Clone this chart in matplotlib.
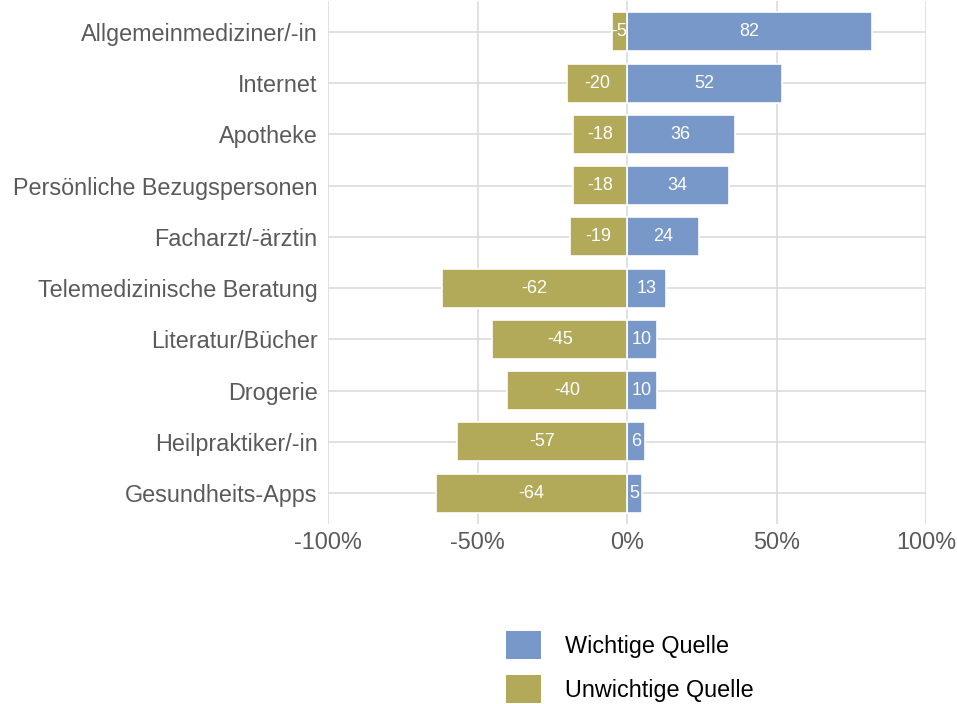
import matplotlib.pyplot as plt
from matplotlib.patches import Patch
from matplotlib.ticker import FuncFormatter

plt.rcParams['font.family'] = ['Liberation Sans', 'DejaVu Sans']

categories = ["Allgemeinmediziner/-in", "Internet", "Apotheke",
              "Persönliche Bezugspersonen", "Facharzt/-ärztin",
              "Telemedizinische Beratung", "Literatur/Bücher", "Drogerie",
              "Heilpraktiker/-in", "Gesundheits-Apps"]
wichtig = [82, 52, 36, 34, 24, 13, 10, 10, 6, 5]
unwichtig = [-5, -20, -18, -18, -19, -62, -45, -40, -57, -64]
series_names = ["Wichtige Quelle", "Unwichtige Quelle"]

blue = "#7798c8"
olive = "#b3aa59"

fig = plt.figure(figsize=(9.57, 7.04), dpi=100)
ax = fig.add_axes([328 / 957, 1 - 524 / 704, (926 - 328) / 957, 523 / 704])

y = list(range(len(categories)))
ax.barh(y, wichtig, height=0.76, color=blue, edgecolor="white", linewidth=1.2, zorder=2)
ax.barh(y, unwichtig, height=0.76, color=olive, edgecolor="white", linewidth=1.2, zorder=2)

for yi, w, u in zip(y, wichtig, unwichtig):
    ax.text(w / 2, yi, str(w), ha="center", va="center", color="white", fontsize=13, zorder=3)
    ax.text(u / 2, yi, str(u), ha="center", va="center", color="white", fontsize=13, zorder=3)

ax.set_xlim(-100, 100)
ax.set_ylim(len(categories) - 0.4, -0.6)
ax.set_yticks(y)
ax.set_yticklabels(categories)
ax.set_xticks([-100, -50, 0, 50, 100])
ax.xaxis.set_major_formatter(FuncFormatter(lambda v, p: f"{int(v)}%"))
ax.tick_params(axis="both", length=0, labelsize=16.8, labelcolor="#5a5a5a")
ax.tick_params(axis="y", pad=7.5)
ax.tick_params(axis="x", pad=5)

ax.grid(True, color="#d9d9d9", linewidth=1.1, zorder=0)
ax.set_axisbelow(True)
for s in ax.spines.values():
    s.set_visible(False)

handles = [Patch(facecolor=blue, edgecolor="none"), Patch(facecolor=olive, edgecolor="none")]
fig.legend(handles, series_names, loc="upper left", bbox_to_anchor=(506 / 957, 1 - 631 / 704),
           frameon=False, fontsize=16.8, handlelength=1.48, handleheight=1.48,
           handletextpad=1.06, labelspacing=0.68, borderpad=0, borderaxespad=0)

fig.savefig("out.png", dpi=100)
